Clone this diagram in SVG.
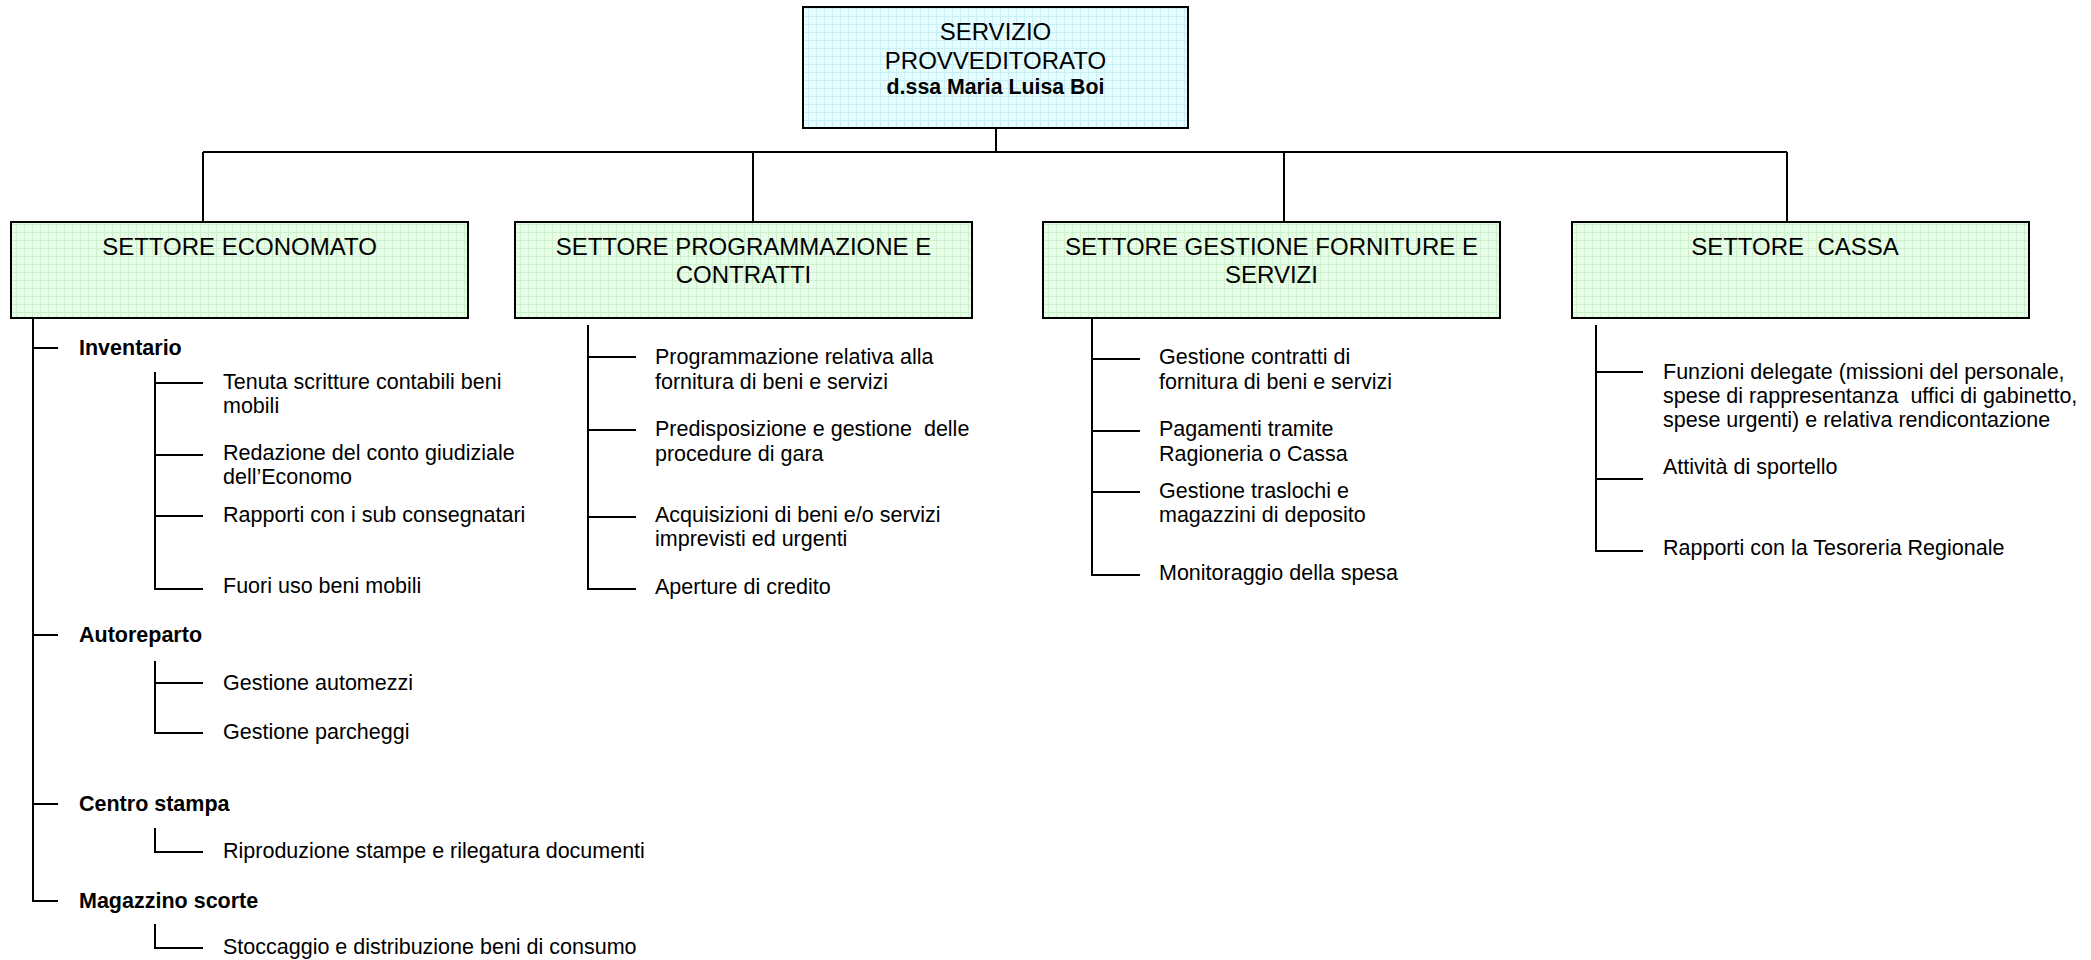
<svg xmlns="http://www.w3.org/2000/svg" width="2091" height="960" viewBox="0 0 2091 960">
<defs>
<pattern id="gridC" width="8" height="8" patternUnits="userSpaceOnUse">
<rect width="8" height="8" fill="#e6fdff"/>
<path d="M0 0.5H8M0.5 0V8" stroke="#c9eff5" stroke-width="1"/>
</pattern>
<pattern id="gridG" width="8" height="8" patternUnits="userSpaceOnUse">
<rect width="8" height="8" fill="#e8fde8"/>
<path d="M0 0.5H8M0.5 0V8" stroke="#cdf0cd" stroke-width="1"/>
</pattern>
</defs>
<style>
.box{stroke:#000;stroke-width:2}
.hd{font-family:"Liberation Sans",Arial,sans-serif;font-size:24px;fill:#000;text-anchor:middle;white-space:pre}
.hb{font-family:"Liberation Sans",Arial,sans-serif;font-size:21.3px;font-weight:bold;fill:#000;text-anchor:middle}
.l1{font-family:"Liberation Sans",Arial,sans-serif;font-size:21.5px;font-weight:bold;fill:#000}
.lf{font-family:"Liberation Sans",Arial,sans-serif;font-size:21.5px;fill:#000;white-space:pre}
.ln{fill:none;stroke:#000;stroke-width:2}
</style>
<rect width="2091" height="960" fill="#fff"/>

<g id="connectors">
<path class="ln" d="M996 128V152M203 152H1787M203 152V222M753 152V222M1284 152V222M1787 152V222"/>
<path class="ln" d="M33 317V901H58M33 348H58M33 635H58M33 804H58"/>
<path class="ln" d="M155 372V589H203M155 383H203M155 455H203M155 516H203"/>
<path class="ln" d="M155 661V733H203M155 683H203"/>
<path class="ln" d="M155 828V852H203"/>
<path class="ln" d="M155 924V948H203"/>
<path class="ln" d="M588 325V589H636M588 357H636M588 430H636M588 517H636"/>
<path class="ln" d="M1092 316V575H1140M1092 359H1140M1092 431H1140M1092 492H1140"/>
<path class="ln" d="M1596 325V551H1643M1596 372H1643M1596 479H1643"/>
</g>

<g id="servizio">
<rect class="box" x="803" y="7" width="385" height="121" fill="url(#gridC)"/>
<text class="hd" x="995.5" y="40">SERVIZIO</text>
<text class="hd" x="995.5" y="69">PROVVEDITORATO</text>
<text class="hb" x="995.5" y="94">d.ssa Maria Luisa Boi</text>
</g>

<g id="economato">
<rect class="box" x="11" y="222" width="457" height="96" fill="url(#gridG)"/>
<text class="hd" x="239.5" y="255">SETTORE ECONOMATO</text>
</g>

<g id="programmazione">
<rect class="box" x="515" y="222" width="457" height="96" fill="url(#gridG)"/>
<text class="hd" x="743.5" y="255">SETTORE PROGRAMMAZIONE E</text>
<text class="hd" x="743.5" y="283">CONTRATTI</text>
</g>

<g id="gestione">
<rect class="box" x="1043" y="222" width="457" height="96" fill="url(#gridG)"/>
<text class="hd" x="1271.5" y="255">SETTORE GESTIONE FORNITURE E</text>
<text class="hd" x="1271.5" y="283">SERVIZI</text>
</g>

<g id="cassa">
<rect class="box" x="1572" y="222" width="457" height="96" fill="url(#gridG)"/>
<text class="hd" x="1795" y="255">SETTORE  CASSA</text>
</g>

<g id="economato-items">
<text class="l1" x="79" y="355">Inventario</text>
<text class="lf" x="223" y="389">Tenuta scritture contabili beni</text>
<text class="lf" x="223" y="413">mobili</text>
<text class="lf" x="223" y="460">Redazione del conto giudiziale</text>
<text class="lf" x="223" y="484">dell’Economo</text>
<text class="lf" x="223" y="522">Rapporti con i sub consegnatari</text>
<text class="lf" x="223" y="593">Fuori uso beni mobili</text>
<text class="l1" x="79" y="642">Autoreparto</text>
<text class="lf" x="223" y="690">Gestione automezzi</text>
<text class="lf" x="223" y="739">Gestione parcheggi</text>
<text class="l1" x="79" y="811">Centro stampa</text>
<text class="lf" x="223" y="858">Riproduzione stampe e rilegatura documenti</text>
<text class="l1" x="79" y="908">Magazzino scorte</text>
<text class="lf" x="223" y="954">Stoccaggio e distribuzione beni di consumo</text>
</g>

<g id="programmazione-items">
<text class="lf" x="655" y="364">Programmazione relativa alla</text>
<text class="lf" x="655" y="389">fornitura di beni e servizi</text>
<text class="lf" x="655" y="436">Predisposizione e gestione  delle</text>
<text class="lf" x="655" y="461">procedure di gara</text>
<text class="lf" x="655" y="522">Acquisizioni di beni e/o servizi</text>
<text class="lf" x="655" y="546">imprevisti ed urgenti</text>
<text class="lf" x="655" y="594">Aperture di credito</text>
</g>

<g id="gestione-items">
<text class="lf" x="1159" y="364">Gestione contratti di</text>
<text class="lf" x="1159" y="389">fornitura di beni e servizi</text>
<text class="lf" x="1159" y="436">Pagamenti tramite</text>
<text class="lf" x="1159" y="461">Ragioneria o Cassa</text>
<text class="lf" x="1159" y="498">Gestione traslochi e</text>
<text class="lf" x="1159" y="522">magazzini di deposito</text>
<text class="lf" x="1159" y="580">Monitoraggio della spesa</text>
</g>

<g id="cassa-items">
<text class="lf" x="1663" y="379">Funzioni delegate (missioni del personale,</text>
<text class="lf" x="1663" y="403">spese di rappresentanza  uffici di gabinetto,</text>
<text class="lf" x="1663" y="427">spese urgenti) e relativa rendicontazione</text>
<text class="lf" x="1663" y="474">Attività di sportello</text>
<text class="lf" x="1663" y="555">Rapporti con la Tesoreria Regionale</text>
</g>
</svg>
